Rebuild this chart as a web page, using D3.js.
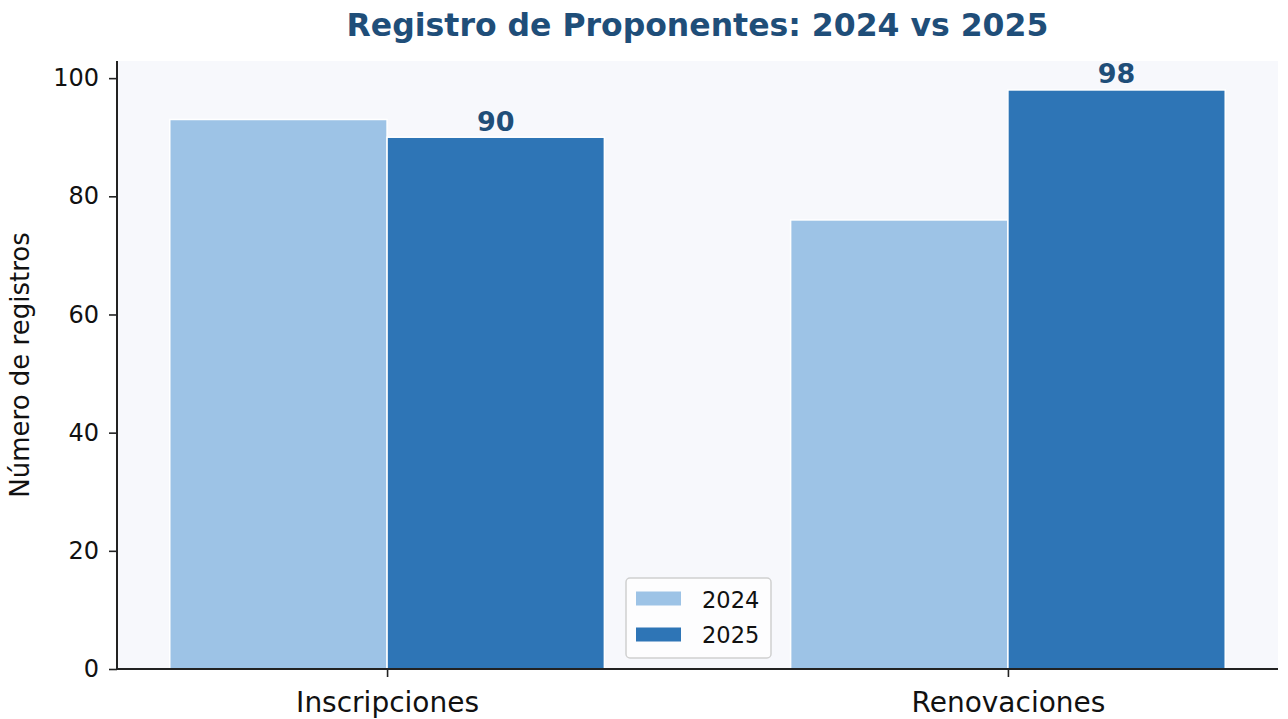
<!DOCTYPE html>
<html><head><meta charset="utf-8">
<script src="https://cdn.jsdelivr.net/npm/d3@7"></script>
<style>body{margin:0;background:#fff}svg{display:block}text{font-family:"DejaVu Sans",sans-serif}</style>
</head><body><svg id="c" width="1288" height="719"></svg>
<script>
const categories = ["Inscripciones", "Renovaciones"];
const seriesNames = ["2024", "2025"];
const values2024 = [93, 76];
const values2025 = [90, 98];
const yTicks = [0, 20, 40, 60, 80, 100];
const colors = ["#9dc3e6", "#2e75b6"];

const svg = d3.select("#c");
const L = 117, R = 1278, T = 61, B = 669;
const x = d3.scaleLinear().domain([-0.435, 1.435]).range([L, R]);
const y = d3.scaleLinear().domain([0, 102.9]).range([B, T]);
const bw = 0.35;

svg.append("rect").attr("x", L).attr("y", T).attr("width", R - L).attr("height", B - T).attr("fill", "#f7f8fc");

const series = [values2024, values2025];
series.forEach((vals, si) => {
  svg.append("g").selectAll("rect").data(vals).join("rect")
    .attr("x", (d, i) => x(i + (si === 0 ? -bw : 0)))
    .attr("width", x(bw) - x(0))
    .attr("y", d => y(d))
    .attr("height", d => y(0) - y(d))
    .attr("fill", colors[si])
    .attr("stroke", "#fff").attr("stroke-width", 1.5);
});

svg.append("g").selectAll("text").data(values2025).join("text")
  .attr("x", (d, i) => x(i + bw / 2)).attr("y", d => y(d) - 6.5)
  .attr("text-anchor", "middle").attr("font-size", 27).attr("font-weight", "bold")
  .attr("fill", "#1f4e79").text(d => d);

const yAxis = svg.append("g").attr("transform", `translate(${L},0)`)
  .call(d3.axisLeft(y).tickValues(yTicks).tickSize(8).tickPadding(10));
const xAxis = svg.append("g").attr("transform", `translate(0,${B})`)
  .call(d3.axisBottom(x).tickValues([0, 1]).tickFormat(i => categories[i]).tickSize(8).tickPadding(15));
[yAxis, xAxis].forEach(a => {
  a.select(".domain").attr("stroke", "#222").attr("stroke-width", 2);
  a.selectAll(".tick line").attr("stroke", "#222").attr("stroke-width", 1.6);
  a.selectAll(".tick text").attr("fill", "#111").attr("font-size", 24).attr("font-family", "DejaVu Sans");
});
yAxis.selectAll(".domain").attr("d", `M0,${T}V${B}`);
xAxis.selectAll(".domain").attr("d", `M${L},0H${R}`);
xAxis.selectAll(".tick text").attr("font-size", 28);

svg.append("text").attr("transform", `translate(29,${(T + B) / 2}) rotate(-90)`)
  .attr("text-anchor", "middle").attr("font-size", 26).attr("fill", "#111").text("Número de registros");

svg.append("text").attr("x", (L + R) / 2).attr("y", 36).attr("text-anchor", "middle")
  .attr("font-size", 31.5).attr("font-weight", "bold").attr("fill", "#1f4e79")
  .text("Registro de Proponentes: 2024 vs 2025");

const lg = svg.append("g").attr("transform", "translate(626,578)");
lg.append("rect").attr("width", 145).attr("height", 80).attr("rx", 4)
  .attr("fill", "#fdfdfe").attr("stroke", "#d0d0d0").attr("stroke-width", 1.5);
seriesNames.forEach((n, i) => {
  lg.append("rect").attr("x", 10).attr("y", 13.5 + i * 36).attr("width", 45).attr("height", 14).attr("fill", colors[i]);
  lg.append("text").attr("x", 76).attr("y", 30 + i * 35).attr("font-size", 22.5).attr("fill", "#111").text(n);
});
</script></body></html>
